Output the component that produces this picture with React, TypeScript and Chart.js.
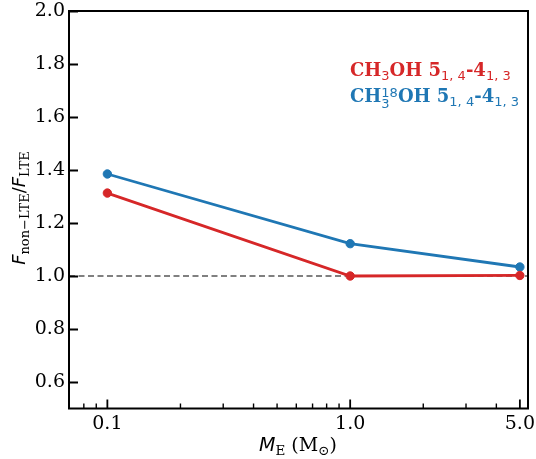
import React, { useEffect, useRef } from "react";
import { Chart, registerables } from "chart.js";

Chart.register(...registerables);

// ---- data ----
const masses = [0.1, 1.0, 5.0];
const ch3ohRatio = [1.313, 1.0, 1.002];
const ch318ohRatio = [1.385, 1.122, 1.034];
const xMajorTicks = [0.1, 1.0, 5.0];
const xMinorTicks = [0.08, 0.09, 0.2, 0.3, 0.4, 0.5, 0.6, 0.7, 0.8, 0.9, 2, 3, 4];
const yTicks = [0.6, 0.8, 1.0, 1.2, 1.4, 1.6, 1.8, 2.0];
const xRange = [0.0695, 5.4];
const yRange = [0.5, 2.0];
const lteLevel = 1.0;

const RED = "#d62728";
const BLUE = "#1f77b4";

type Run = { t: string; f: string; dy?: number; sup?: { t: string; f: string; dy: number } };

const BOLD = "bold 18px 'DejaVu Serif'";
const SUB = "13px 'DejaVu Sans'";
const SERIF = "19px 'DejaVu Serif'";
const SERIF_SUB_X = "13.5px 'DejaVu Serif'";
const SERIF_SUB_Y = "13px 'DejaVu Serif'";
const ITAL_X = "italic 19px 'DejaVu Sans'";
const ITAL_Y = "italic 18px 'DejaVu Sans'";

function runsWidth(ctx: CanvasRenderingContext2D, runs: Run[]) {
  let w = 0;
  for (const r of runs) {
    ctx.font = r.f;
    let rw = ctx.measureText(r.t).width;
    if (r.sup) {
      ctx.font = r.sup.f;
      rw = Math.max(rw, ctx.measureText(r.sup.t).width);
    }
    w += rw;
  }
  return w;
}

function drawRuns(ctx: CanvasRenderingContext2D, runs: Run[], x: number, y: number, color: string) {
  ctx.fillStyle = color;
  ctx.textBaseline = "alphabetic";
  ctx.textAlign = "left";
  let cx = x;
  for (const r of runs) {
    ctx.font = r.f;
    const w1 = ctx.measureText(r.t).width;
    ctx.fillText(r.t, cx, y + (r.dy || 0));
    let w = w1;
    if (r.sup) {
      ctx.font = r.sup.f;
      const w2 = ctx.measureText(r.sup.t).width;
      ctx.fillText(r.sup.t, cx, y + r.sup.dy);
      w = Math.max(w1, w2);
    }
    cx += w;
  }
}

const redLabel: Run[] = [
  { t: "CH", f: BOLD },
  { t: "3", f: SUB, dy: 3.5 },
  { t: "OH 5", f: BOLD },
  { t: "1, 4", f: SUB, dy: 3.5 },
  { t: "-4", f: BOLD },
  { t: "1, 3", f: SUB, dy: 3.5 },
];
const blueLabel: Run[] = [
  { t: "CH", f: BOLD },
  { t: "3", f: SUB, dy: 5.5, sup: { t: "18", f: SUB, dy: -5 } },
  { t: "OH 5", f: BOLD },
  { t: "1, 4", f: SUB, dy: 3.5 },
  { t: "-4", f: BOLD },
  { t: "1, 3", f: SUB, dy: 3.5 },
];
const yLabel: Run[] = [
  { t: "F", f: ITAL_Y },
  { t: "non\u2212LTE", f: SERIF_SUB_Y, dy: 4 },
  { t: "/", f: "18px 'DejaVu Sans'" },
  { t: "F", f: ITAL_Y },
  { t: "LTE", f: SERIF_SUB_Y, dy: 4 },
];
const xLabel: Run[] = [
  { t: "M", f: ITAL_X },
  { t: "E", f: SERIF_SUB_X, dy: 4 },
  { t: " (M", f: SERIF },
  { t: "\u2299", f: SERIF_SUB_X, dy: 4 },
  { t: ")", f: SERIF },
];

const framePlugin = {
  id: "frame",
  afterDraw(chart: any) {
    const ctx: CanvasRenderingContext2D = chart.ctx;
    const { left, right, top, bottom } = chart.chartArea;
    const xs = chart.scales.x;
    const ys = chart.scales.y;
    ctx.save();
    ctx.strokeStyle = "#000";
    // ticks
    ctx.lineWidth = 1.8;
    ctx.beginPath();
    for (const v of yTicks) {
      const p = Math.round(ys.getPixelForValue(v)) + 0.5;
      ctx.moveTo(left, p);
      ctx.lineTo(left + 9, p);
    }
    for (const v of xMajorTicks) {
      const p = xs.getPixelForValue(v);
      ctx.moveTo(p, bottom);
      ctx.lineTo(p, bottom - 9);
    }
    ctx.stroke();
    ctx.lineWidth = 1.4;
    ctx.beginPath();
    for (const v of xMinorTicks) {
      const p = xs.getPixelForValue(v);
      ctx.moveTo(p, bottom);
      ctx.lineTo(p, bottom - 5);
    }
    ctx.stroke();
    // frame
    ctx.lineWidth = 2;
    ctx.strokeRect(left, top, right - left, bottom - top);

    // in-plot labels
    drawRuns(ctx, redLabel, 350, 76, RED);
    drawRuns(ctx, blueLabel, 350, 102, BLUE);

    // x label
    const xw = runsWidth(ctx, xLabel);
    drawRuns(ctx, xLabel, 298 - xw / 2, 451, "#000");

    // y label
    const yw = runsWidth(ctx, yLabel);
    ctx.translate(25, 208);
    ctx.rotate(-Math.PI / 2);
    drawRuns(ctx, yLabel, -yw / 2, 0, "#000");
    ctx.restore();
  },
};

export default function App() {
  const ref = useRef<HTMLCanvasElement | null>(null);
  useEffect(() => {
    if (!ref.current) return;
    const tickFont = { family: "'DejaVu Serif'", size: 19 };
    const chart = new Chart(ref.current, {
      type: "line",
      data: {
        datasets: [
          {
            label: "CH3OH",
            data: masses.map((m, i) => ({ x: m, y: ch3ohRatio[i] })),
            borderColor: RED,
            backgroundColor: RED,
            pointBackgroundColor: RED,
            pointBorderColor: RED,
            borderWidth: 2.8,
            pointRadius: 4.2,
            pointBorderWidth: 1,
            tension: 0,
          },
          {
            label: "CH3-18OH",
            data: masses.map((m, i) => ({ x: m, y: ch318ohRatio[i] })),
            borderColor: BLUE,
            backgroundColor: BLUE,
            pointBackgroundColor: BLUE,
            pointBorderColor: BLUE,
            borderWidth: 2.8,
            pointRadius: 4.2,
            pointBorderWidth: 1,
            tension: 0,
          },
          {
            label: "LTE",
            data: xRange.map((x) => ({ x, y: lteLevel })),
            borderColor: "#808080",
            borderDash: [6, 3.5],
            borderWidth: 1.8,
            pointRadius: 0,
          },
        ],
      },
      options: {
        responsive: false,
        animation: false,
        devicePixelRatio: 1,
        layout: { padding: { top: 11, right: 8, left: 0, bottom: 0 } },
        plugins: { legend: { display: false }, tooltip: { enabled: false } },
        scales: {
          x: {
            type: "logarithmic",
            min: xRange[0],
            max: xRange[1],
            grid: { display: false, drawTicks: false },
            border: { display: false },
            afterBuildTicks: (s: any) => {
              s.ticks = xMajorTicks.map((v) => ({ value: v }));
            },
            afterFit: (s: any) => {
              s.height = 50.5;
              s.paddingLeft = 0;
              s.paddingRight = 0;
            },
            ticks: {
              font: tickFont,
              color: "#000",
              padding: 4,
              maxRotation: 0,
              autoSkip: false,
              callback: (v: any) => Number(v).toFixed(1),
            },
          },
          y: {
            type: "linear",
            min: yRange[0],
            max: yRange[1],
            grid: { display: false, drawTicks: false },
            border: { display: false },
            afterBuildTicks: (s: any) => {
              s.ticks = yTicks.map((v) => ({ value: v }));
            },
            afterFit: (s: any) => {
              s.width = 69;
              s.paddingTop = 0;
              s.paddingBottom = 0;
            },
            ticks: {
              font: tickFont,
              color: "#000",
              padding: 4,
              autoSkip: false,
              callback: (v: any) => Number(v).toFixed(1),
            },
          },
        },
      },
      plugins: [framePlugin],
    } as any);
    return () => chart.destroy();
  }, []);
  return (
    <div style={{ position: "fixed", left: 0, top: 0, width: 536, height: 459, background: "#fff" }}>
      <canvas ref={ref} width={536} height={459} />
    </div>
  );
}
